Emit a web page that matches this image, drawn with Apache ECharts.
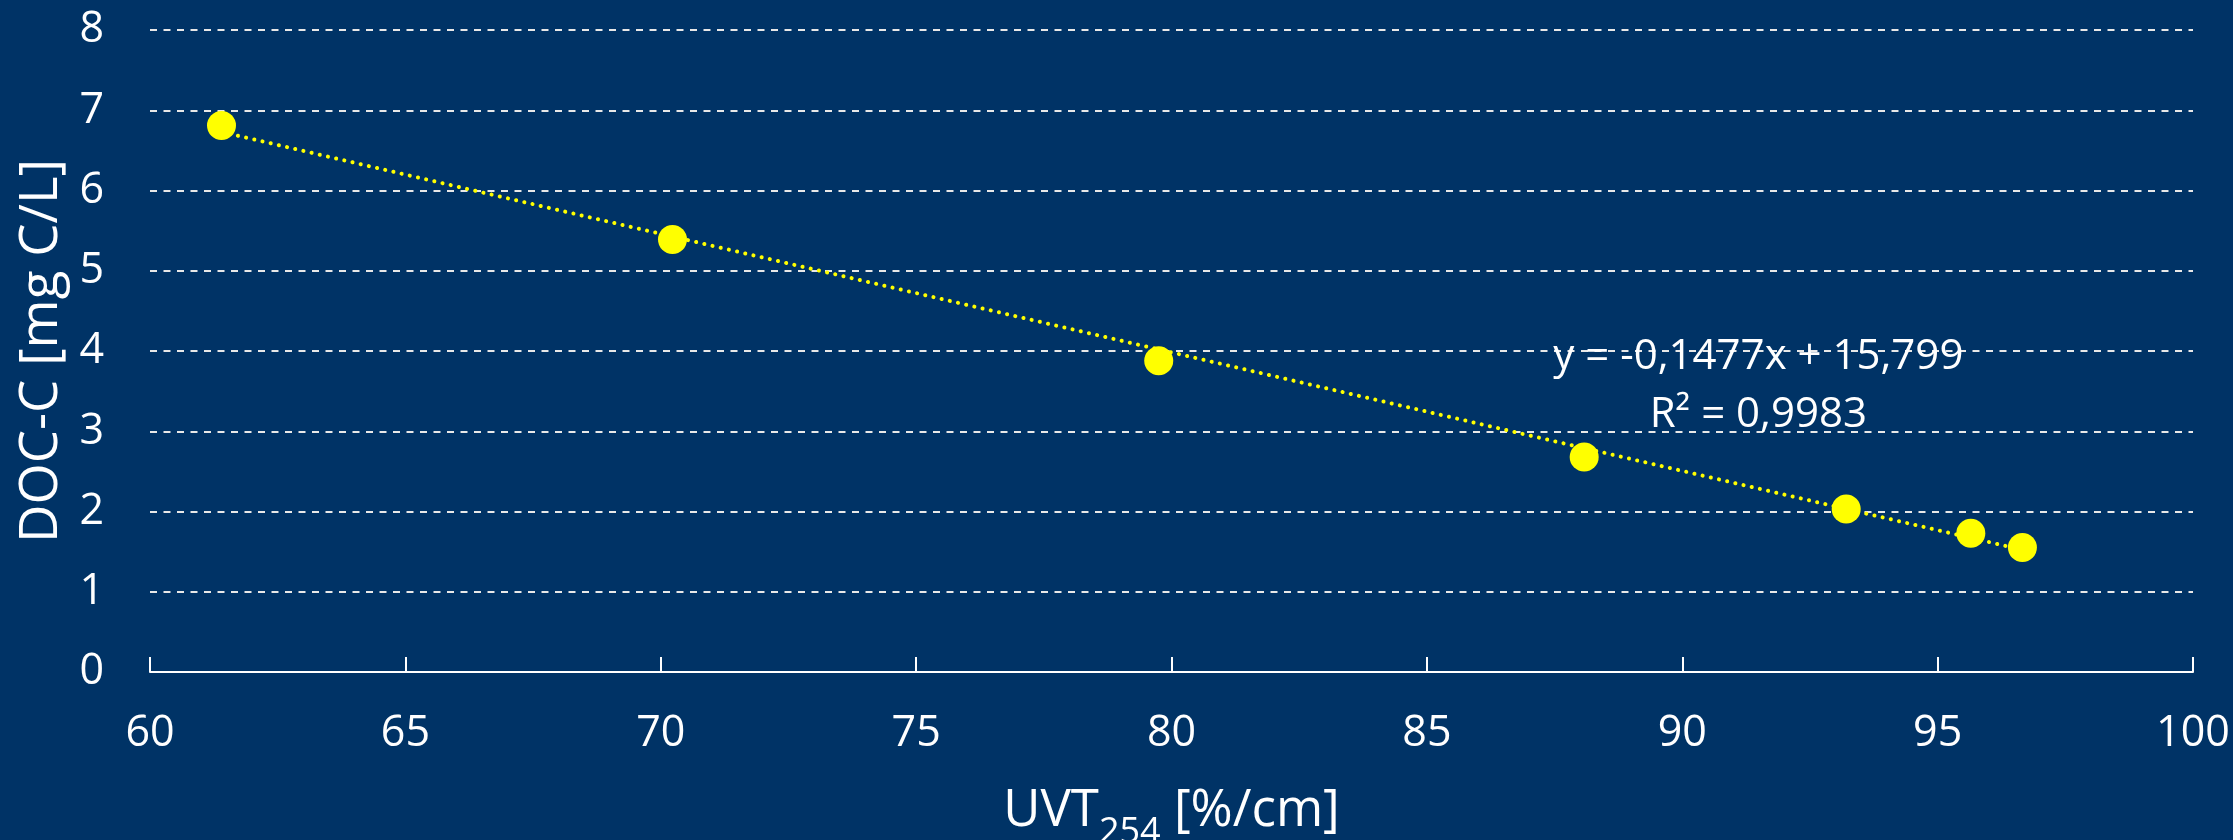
<!DOCTYPE html>
<html>
<head>
<meta charset="utf-8">
<script src="https://cdn.jsdelivr.net/npm/echarts@6/dist/echarts.min.js"></script>
<style>
html,body{margin:0;padding:0;background:#003366;}
#chart{width:2233px;height:840px;}
</style>
</head>
<body>
<div id="chart"></div>
<script>
// Data
const uvt = [61.40, 70.23, 79.75, 88.08, 93.21, 95.65, 96.66];
const doc = [6.81, 5.39, 3.88, 2.68, 2.03, 1.73, 1.55];
// Linear trend shown on the chart
const trendSlope = -0.1477;
const trendIntercept = 15.799;
const trendR2 = 0.9983;
const xTicks = [60, 65, 70, 75, 80, 85, 90, 95, 100];
const yTicks = [0, 1, 2, 3, 4, 5, 6, 7, 8];
const xTitleParts = ['UVT', '254', ' [%/cm]'];
const yTitle = 'DOC-C [mg C/L]';

const fmt = (v, d) => v.toFixed(d).replace('.', ',');
const eqText = 'y = ' + fmt(trendSlope, 4) + 'x + ' + fmt(trendIntercept, 3) +
  '\nR² = ' + fmt(trendR2, 4);

const points = uvt.map((x, i) => [x, doc[i]]);
const xMinData = Math.min(...uvt), xMaxData = Math.max(...uvt);
const trend = [xMinData, xMaxData].map(x => [x, trendSlope * x + trendIntercept]);

const FONT = 'Open Sans';
const chart = echarts.init(document.getElementById('chart'));
const option = {
  backgroundColor: '#003366',
  animation: false,
  textStyle: { fontFamily: FONT },
  grid: { left: 150, right: 40, top: 30, bottom: 168, outerBoundsMode: 'none', containLabel: false },
  xAxis: {
    type: 'value',
    min: xTicks[0], max: xTicks[xTicks.length - 1], interval: 5,
    axisLine: { show: true, lineStyle: { color: '#ffffff', width: 2 } },
    axisTick: { show: true, inside: true, length: 15, lineStyle: { color: '#ffffff', width: 2 } },
    axisLabel: { color: '#ffffff', fontSize: 43, fontFamily: FONT, margin: 40 },
    splitLine: { show: false }
  },
  yAxis: {
    type: 'value',
    min: yTicks[0], max: yTicks[yTicks.length - 1], interval: 1,
    name: yTitle,
    nameLocation: 'middle',
    nameGap: 80,
    nameTextStyle: { color: '#ffffff', fontSize: 53, fontFamily: FONT },
    axisLine: { show: false },
    axisTick: { show: false },
    axisLabel: { color: '#ffffff', fontSize: 43, fontFamily: FONT, margin: 46 },
    splitLine: {
      show: true,
      lineStyle: { color: '#e8e8e8', width: 2, type: [7, 6.5] }
    }
  },
  series: [
    {
      type: 'line',
      data: trend,
      symbol: 'none',
      z: 2,
      lineStyle: { color: '#ffff00', width: 4, type: [0.1, 8.3], cap: 'round' },
      silent: true
    },
    {
      type: 'scatter',
      data: points,
      symbol: 'circle',
      symbolSize: 29,
      z: 3,
      itemStyle: { color: '#ffff00', opacity: 1 }
    }
  ]
};
chart.setOption(option);

// Equation annotation anchored in data coordinates
const anchor = chart.convertToPixel({ gridIndex: 0 }, [91.49, 3.56]);

// X axis title with a real subscript, centred under the plot
const ctx = document.createElement('canvas').getContext('2d');
const mainFont = '51px "Open Sans"', subFont = '36px "Open Sans"';
ctx.font = mainFont; const w1 = ctx.measureText(xTitleParts[0]).width;
ctx.font = subFont;  const w2 = ctx.measureText(xTitleParts[1]).width;
ctx.font = mainFont; const w3 = ctx.measureText(xTitleParts[2]).width;
const cx = chart.convertToPixel({ gridIndex: 0 }, [(xTicks[0] + xTicks[xTicks.length - 1]) / 2, 0])[0];
const x0 = cx - (w1 + w2 + w3) / 2;
const mainBase = 837, subBase = 851;

chart.setOption({
  graphic: [
    {
      type: 'text', x: anchor[0], y: anchor[1], z: 10,
      style: { text: eqText, fill: '#ffffff', font: '42px "Open Sans"', align: 'center', verticalAlign: 'middle', lineHeight: 58 }
    },
    {
      type: 'text', x: x0, y: mainBase, z: 10,
      style: { text: xTitleParts[0], fill: '#ffffff', font: mainFont, align: 'left', verticalAlign: 'bottom', lineHeight: 51 }
    },
    {
      type: 'text', x: x0 + w1, y: subBase, z: 10,
      style: { text: xTitleParts[1], fill: '#ffffff', font: subFont, align: 'left', verticalAlign: 'bottom', lineHeight: 36 }
    },
    {
      type: 'text', x: x0 + w1 + w2, y: mainBase, z: 10,
      style: { text: xTitleParts[2], fill: '#ffffff', font: mainFont, align: 'left', verticalAlign: 'bottom', lineHeight: 51 }
    }
  ]
});
</script>
</body>
</html>
